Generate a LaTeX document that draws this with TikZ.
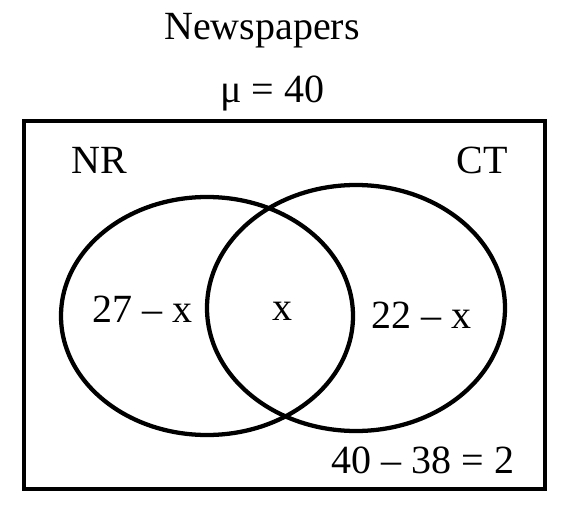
\documentclass[tikz,border=0pt]{standalone}
\usepackage{fontspec}
\setmainfont{Liberation Serif}
\usetikzlibrary{positioning}
\tikzset{
  venn/.style={line width=3.2pt},
  lbl/.style={font=\fontsize{30}{35}\selectfont, inner sep=0pt}
}

\begin{document}
\begin{tikzpicture}[x=0.75pt,y=-0.75pt]
        \useasboundingbox (0,0) rectangle (567,506);
        % universal set
        \draw[venn] (24,121) rectangle (545,489);
        \node[lbl] (title) at (262,31) {Newspapers};
        \node[lbl] (mu) at (272,93) {μ = 40};
        % the two sets
        \draw[venn] (207,316) ellipse [x radius=146, y radius=119];
        \draw[venn] (356,308) ellipse [x radius=149, y radius=123];
        \node[lbl] (nr) at (99,160) {NR};
        \node[lbl] (ct) at (482,160) {CT};
        \node[lbl] (onlynr) at (142,309) {27 – x};
        \node[lbl] (both) at (282,311) {x};
        \node[lbl] (onlyct) at (421,315) {22 – x};
        \node[lbl] (none) at (423,460) {40 – 38 = 2};
      \end{tikzpicture}
\end{document}
